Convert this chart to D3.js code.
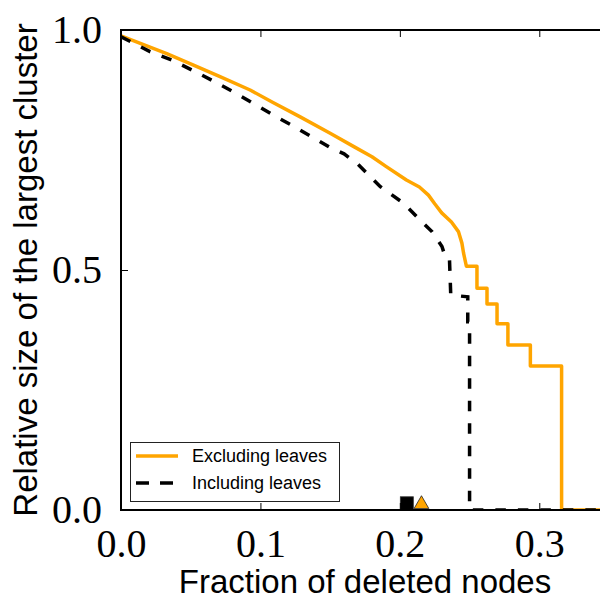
<!DOCTYPE html>
<html>
<head>
<meta charset="utf-8">
<script src="https://cdn.jsdelivr.net/npm/d3@7"></script>
<style>
  html, body { margin: 0; padding: 0; background: #fff; }
  svg { display: block; }
</style>
</head>
<body>
<div id="chart"></div>
<script>
// removal curves
const exclX = [0, 0.0328, 0.052, 0.071, 0.0926, 0.109, 0.1285, 0.15, 0.167, 0.18, 0.19, 0.2047, 0.214, 0.2205, 0.225, 0.230, 0.237, 0.242, 0.2445, 0.2457, 0.2477, 0.2553, 0.2553, 0.2625, 0.2625, 0.2697, 0.2697, 0.2775, 0.2775, 0.2936, 0.2936, 0.316, 0.316, 0.35];
const exclY = [0.988, 0.951, 0.927, 0.903, 0.875, 0.849, 0.819, 0.785, 0.757, 0.736, 0.716, 0.6875, 0.673, 0.656, 0.638, 0.619, 0.60, 0.58, 0.556, 0.535, 0.508, 0.508, 0.462, 0.462, 0.429, 0.429, 0.388, 0.388, 0.344, 0.344, 0.30, 0.30, 0, 0];

const inclX = [0, 0.0208, 0.0364, 0.052, 0.066, 0.0807, 0.095, 0.109, 0.124, 0.14, 0.15, 0.16, 0.17, 0.186, 0.2027, 0.2122, 0.223, 0.2302, 0.2314, 0.2355, 0.2365, 0.2487, 0.2487, 0.25, 0.25, 0.35];
const inclY = [0.986, 0.955, 0.9375, 0.915, 0.894, 0.871, 0.847, 0.823, 0.799, 0.772, 0.755, 0.742, 0.72, 0.6736, 0.639, 0.611, 0.58, 0.549, 0.538, 0.53, 0.448, 0.444, 0.392, 0.392, 0, 0];

// critical points marked near the x axis
const markInclX = 0.205;
const markExclX = 0.2155;
const markY = 0.014;

const seriesNames = ['Excluding leaves', 'Including leaves'];
const xTicks = [0, 0.1, 0.2, 0.3];
const yTicks = [0, 0.5, 1.0];

const W = 600, H = 600;
const margin = { left: 121, top: 30, right: -9, bottom: 90 };
const innerW = W - margin.left - margin.right;
const innerH = H - margin.top - margin.bottom;

const x = d3.scaleLinear().domain([0, 0.35]).range([0, innerW]);
const y = d3.scaleLinear().domain([0, 1]).range([innerH, 0]);

const svg = d3.select('#chart').append('svg').attr('width', W).attr('height', H);
const g = svg.append('g').attr('transform', `translate(${margin.left},${margin.top})`);

g.append('clipPath').attr('id', 'plotClip')
  .append('rect').attr('width', innerW).attr('height', innerH);

const line = d3.line().x((d) => x(d[0])).y((d) => y(d[1]));
const excl = exclX.map((v, i) => [v, exclY[i]]);
const incl = inclX.map((v, i) => [v, inclY[i]]);

const plot = g.append('g').attr('clip-path', 'url(#plotClip)');
plot.append('path').datum(excl)
  .attr('d', line).attr('fill', 'none')
  .attr('stroke', '#ffa500').attr('stroke-width', 3.5)
  .attr('stroke-linejoin', 'round');
plot.append('path').datum(incl)
  .attr('d', line).attr('fill', 'none')
  .attr('stroke', '#000').attr('stroke-width', 3.5)
  .attr('stroke-dasharray', '10.5,12');

// markers
const sq = 13;
plot.append('rect')
  .attr('x', x(markInclX) - sq / 2).attr('y', y(markY) - sq / 2)
  .attr('width', sq).attr('height', sq)
  .attr('fill', '#000').attr('stroke', '#333').attr('stroke-width', 0.8);
plot.append('path')
  .attr('d', d3.symbol().type(d3.symbolTriangle).size(95)())
  .attr('transform', `translate(${x(markExclX)},${y(markY) + 1})`)
  .attr('fill', '#ffa500').attr('stroke', '#222').attr('stroke-width', 0.8);

// axes, classic inward ticks
const tickFont = '"Liberation Serif", "DejaVu Serif", serif';
const xAxis = g.append('g').attr('transform', `translate(0,${innerH})`)
  .call(d3.axisBottom(x).tickValues(xTicks).tickSizeInner(-7).tickSizeOuter(0).tickFormat(d3.format('.1f')));
xAxis.selectAll('text').attr('y', 47).attr('dy', null)
  .attr('font-family', tickFont).attr('font-size', 40).attr('fill', '#000');

const yAxis = g.append('g')
  .call(d3.axisLeft(y).tickValues(yTicks).tickSizeInner(-7).tickSizeOuter(0).tickFormat(d3.format('.1f')));
yAxis.selectAll('text').attr('x', -19).attr('dy', '0.3em')
  .attr('font-family', tickFont).attr('font-size', 40).attr('fill', '#000');

g.append('g')
  .call(d3.axisTop(x).tickValues(xTicks).tickSizeInner(-7).tickSizeOuter(0).tickFormat(''));

[xAxis, yAxis].forEach((a) => a.select('.domain').remove());
g.selectAll('.tick line').attr('stroke', '#000').attr('stroke-width', 1);

g.append('rect')
  .attr('width', innerW).attr('height', innerH)
  .attr('fill', 'none').attr('stroke', '#000').attr('stroke-width', 2);

// axis titles
const labelFont = '"Liberation Sans", Arial, sans-serif';
svg.append('text')
  .attr('x', margin.left + x(0.175)).attr('y', 593)
  .attr('text-anchor', 'middle')
  .attr('font-family', labelFont).attr('font-size', 33)
  .text('Fraction of deleted nodes');
svg.append('text')
  .attr('transform', `translate(37,${margin.top + innerH / 2}) rotate(-90)`)
  .attr('text-anchor', 'middle')
  .attr('font-family', labelFont).attr('font-size', 33)
  .text('Relative size of the largest cluster');

// legend
const legend = svg.append('g');
legend.append('rect')
  .attr('x', 130.5).attr('y', 442.5).attr('width', 209).attr('height', 59)
  .attr('fill', '#fff').attr('stroke', '#222').attr('stroke-width', 1);
legend.append('line')
  .attr('x1', 136).attr('x2', 178).attr('y1', 456).attr('y2', 456)
  .attr('stroke', '#ffa500').attr('stroke-width', 3.5);
legend.append('line')
  .attr('x1', 136).attr('x2', 178).attr('y1', 483).attr('y2', 483)
  .attr('stroke', '#000').attr('stroke-width', 3.5).attr('stroke-dasharray', '13,11');
legend.selectAll('text.entry').data(seriesNames).enter()
  .append('text')
  .attr('class', 'entry')
  .attr('x', 192).attr('y', (d, i) => 462 + i * 27)
  .attr('font-family', labelFont).attr('font-size', 18)
  .text((d) => d);
</script>
</body>
</html>
